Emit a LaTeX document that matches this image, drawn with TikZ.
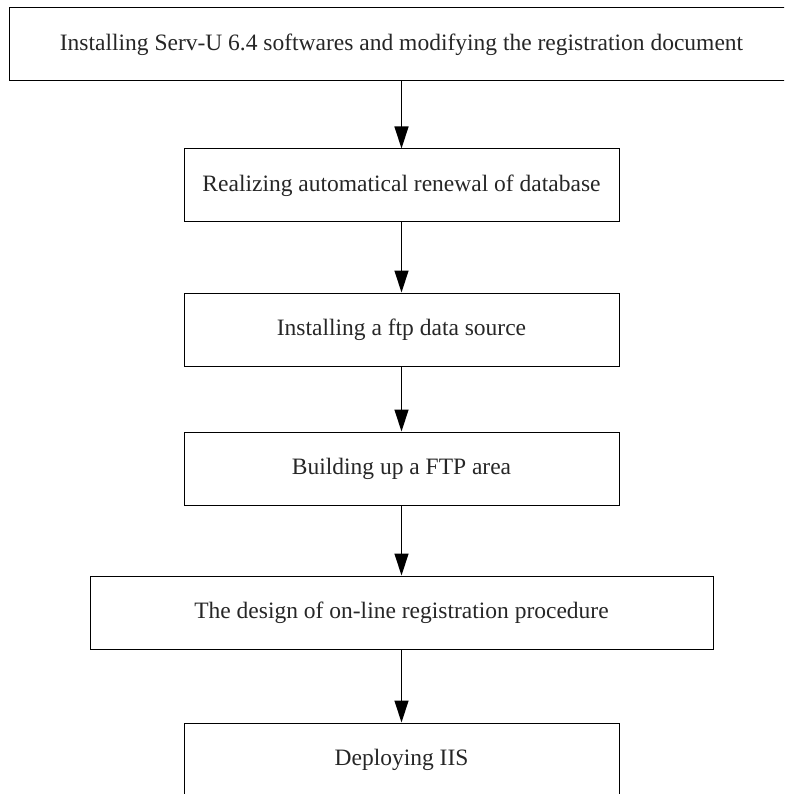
\documentclass[tikz,border=0pt]{standalone}
\usepackage{fontspec}
\setmainfont{Liberation Serif}
\usetikzlibrary{arrows.meta}
\begin{document}
\begin{tikzpicture}[x=1pt,y=-1pt,
  box/.style={draw=black, line width=1pt, minimum height=73pt, inner sep=0pt,
    font=\fontsize{23.5}{28}\selectfont, text=black!85},
  arr/.style={-{Triangle[width=14pt,length=22pt]}, line width=1.3pt}]
\useasboundingbox (0,0) rectangle (784,794);
\clip (0,0) rectangle (784,794);
\node[box, minimum width=785pt] (b1) at (401.5,44.5) {Installing Serv-U 6.4 softwares and modifying the registration document};
\node[box, minimum width=435pt] (b2) at (401.5,185.5) {Realizing automatical renewal of database};
\node[box, minimum width=435pt] (b3) at (401.5,329.5) {Installing a ftp data source};
\node[box, minimum width=435pt] (b4) at (401.5,468.5) {Building up a FTP area};
\node[box, minimum width=623pt] (b5) at (401.5,612.5) {The design of on-line registration procedure};
\node[box, minimum width=435pt] (b6) at (401.5,759.5) {Deploying IIS};
\draw[arr] (b1.south -| b2.north) -- (b2.north);
\draw[arr] (b2) -- (b3);
\draw[arr] (b3) -- (b4);
\draw[arr] (b4) -- (b5);
\draw[arr] (b5) -- (b6);
\end{tikzpicture}
\end{document}
